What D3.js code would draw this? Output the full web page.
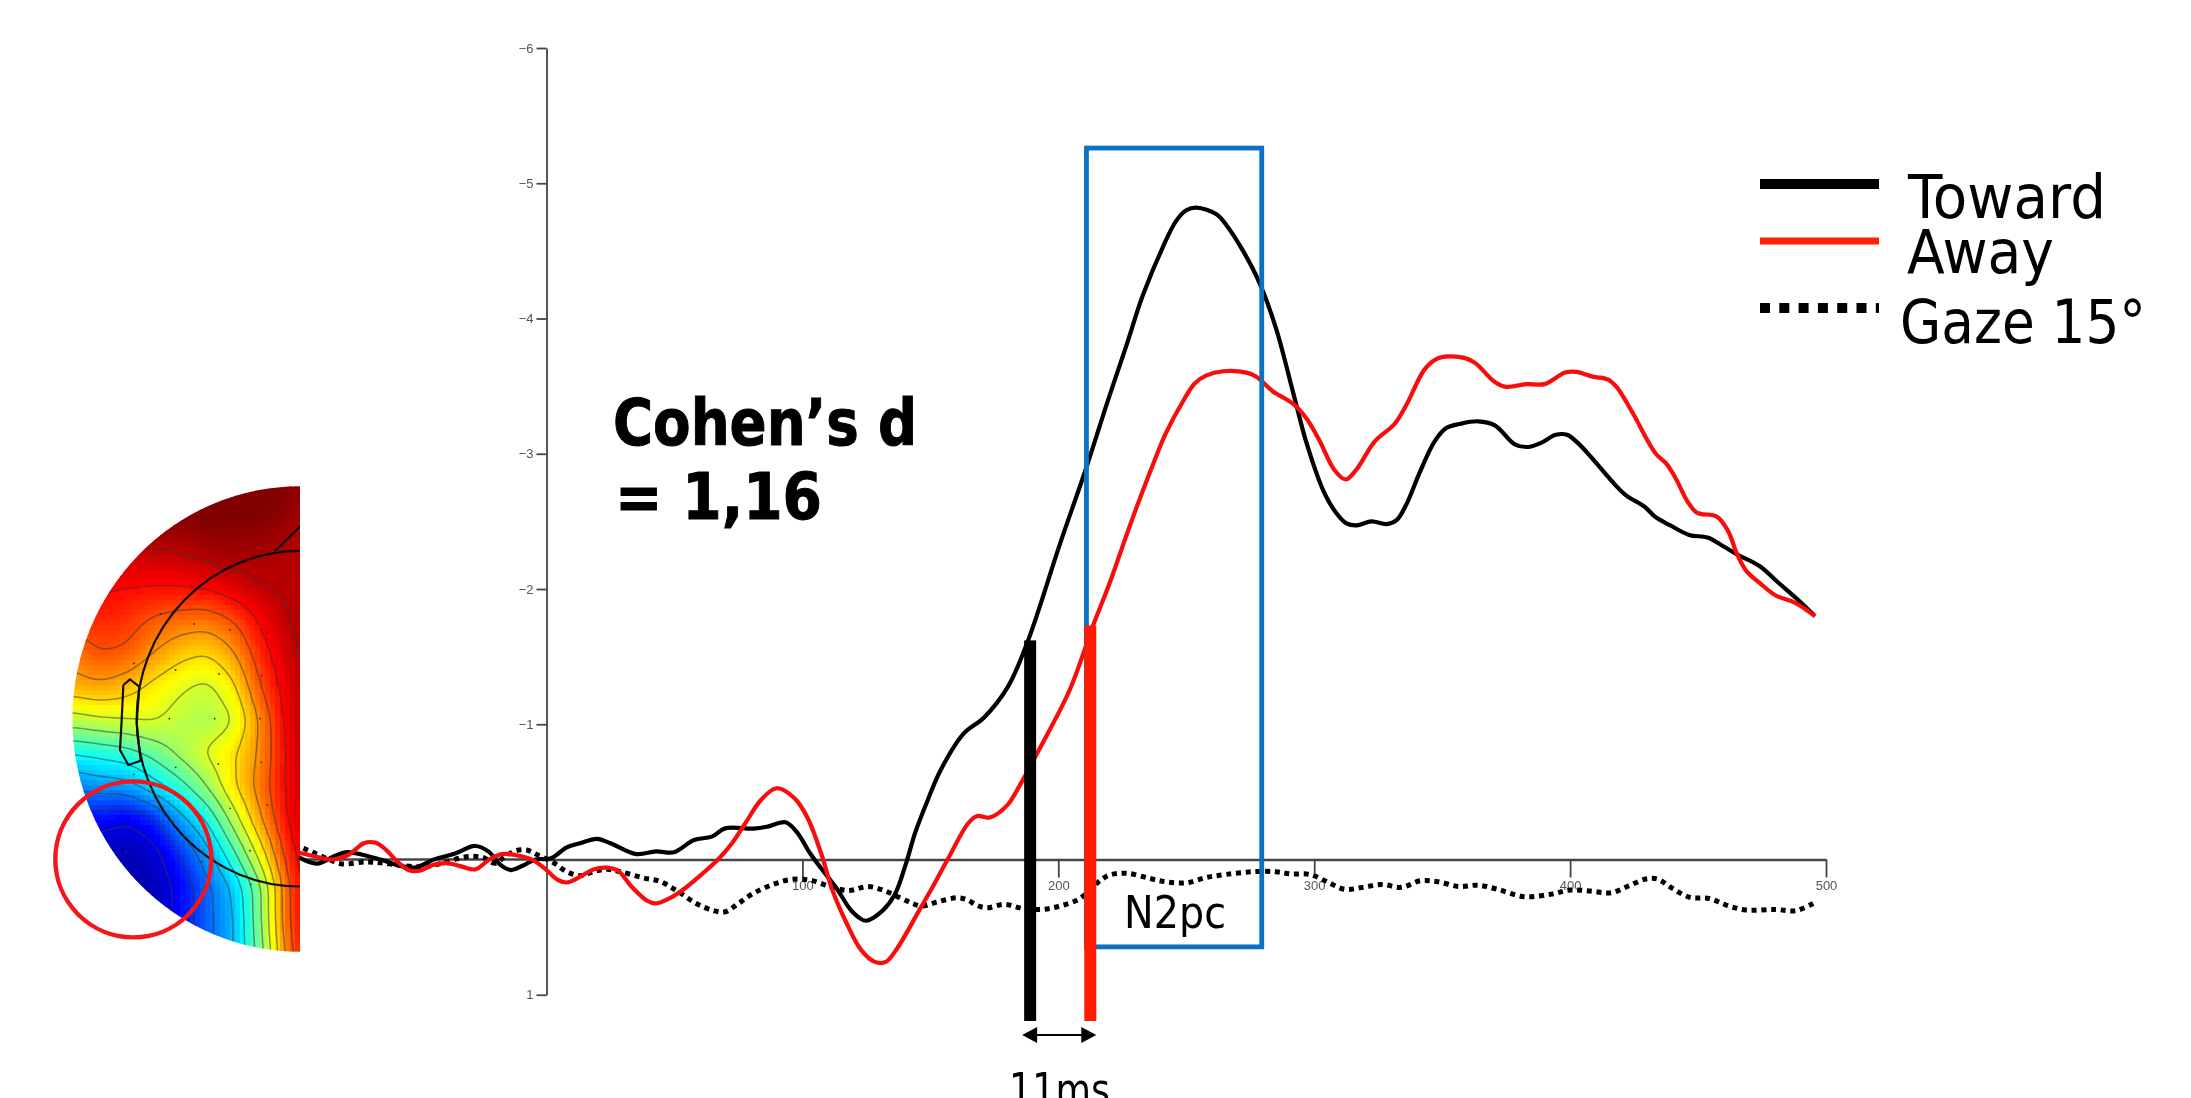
<!DOCTYPE html>
<html><head><meta charset="utf-8">
<script src="https://cdn.jsdelivr.net/npm/d3@7"></script>
<style>html,body{margin:0;padding:0;background:#fff;overflow:hidden}svg{display:block}</style>
</head><body><svg id="c" width="2191" height="1098"></svg>
<script>
// ---- waveforms (time in ms, amplitude in microvolts; negative is up) ----
const towardT=[-96.7,-89.7,-82.8,-78,-72,-65,-56.6,-51,-44,-35.7,-27.9,-22.6,-18,-13.9,-9.5,-4.3,1.8,7.9,13,19.8,25,35,42.8,49.8,57.6,64.6,69.8,81,86.4,93.4,97.7,103,107.3,113.4,119.5,124.8,130.9,136,140.5,144,149,154,163,171,180.4,188.2,200.6,211,218.8,226.6,233,240.9,246,250,254,261.8,265.7,272.2,278.7,285.2,291.8,297,303.5,308.7,312.6,316.5,322.4,328.2,332.1,336,341.2,347,351.6,356.8,364,370.6,378.4,383.5,388.6,394.4,398.8,403,408.9,417.6,422,429,433.5,439.2,446.5,453.7,459.5,465.3,474,481.2,488.5,495.7];
const towardV=[-.016,.03,-.026,-.055,-.035,0,.05,.058,0,-.045,-.1,-.058,.04,.078,.048,0,-.009,-.09,-.12,-.152,-.12,-.04,-.06,-.053,-.144,-.169,-.23,-.228,-.243,-.275,-.206,-.046,.065,.214,.386,.453,.386,.263,.028,-.194,-.44,-.66,-.93,-1.05,-1.28,-1.62,-2.33,-2.9,-3.36,-3.8,-4.17,-4.53,-4.72,-4.8,-4.82,-4.77,-4.69,-4.5,-4.26,-3.92,-3.45,-3.08,-2.73,-2.56,-2.485,-2.47,-2.5,-2.48,-2.507,-2.625,-2.86,-3.09,-3.19,-3.22,-3.24,-3.21,-3.07,-3.05,-3.08,-3.14,-3.14,-3.08,-2.96,-2.77,-2.69,-2.61,-2.53,-2.47,-2.4,-2.38,-2.32,-2.255,-2.17,-2.05,-1.93,-1.8];
const awayT=[-96.7,-89.7,-84.5,-77.5,-71.4,-67,-62.6,-58.3,-53.9,-49.6,-44.4,-38.3,-33,-27.8,-22.6,-17.4,-11.3,-5.2,0,4.4,7.9,13.2,18.4,23.6,28,33.2,39.3,42.8,48,54,60.3,67.2,72.5,77.7,83.8,89.9,96.9,102.1,107.3,111.7,117,123,128.3,132.6,137,145.7,151,157,164.8,168.3,173.2,180,185,193,204.5,213.6,220,228,237,242,248.8,253.3,257.9,264.4,273.5,277.4,283.9,291.7,297,302,307.9,312.3,316.4,323.6,331.4,336,343,347.7,352.5,359,363,370.6,374.9,382.9,390,398,402.4,408.9,414.7,418.3,424.8,429.9,433.5,437.9,441.5,445.8,449.5,457.3,461.7,465.3,469,474,480.5,487.8,495.7];
const awayV=[-.05,-.02,0,-.033,-.12,-.125,-.07,.016,.078,.083,.04,.028,.053,.073,.004,-.04,-.03,.004,.078,.15,.17,.127,.073,.06,.083,.2,.305,.325,.288,.214,.115,-.004,-.12,-.268,-.44,-.527,-.453,-.305,-.046,.226,.46,.67,.757,.757,.658,.374,.2,-.009,-.268,-.322,-.31,-.4,-.55,-.83,-1.255,-1.73,-2.04,-2.47,-2.92,-3.15,-3.39,-3.52,-3.58,-3.61,-3.6,-3.57,-3.46,-3.37,-3.26,-3.1,-2.88,-2.81,-2.88,-3.09,-3.22,-3.36,-3.62,-3.7,-3.72,-3.707,-3.67,-3.53,-3.495,-3.515,-3.515,-3.6,-3.606,-3.57,-3.55,-3.49,-3.29,-3.11,-3,-2.92,-2.81,-2.65,-2.565,-2.535,-2.43,-2.255,-2.13,-2.046,-1.95,-1.9,-1.8];
const gazeT=[-95,-89.7,-84.5,-80,-70.4,-63.4,-54.9,-47.9,-41,-31.3,-25,-20,-16.5,-12,-7.8,-3.4,2.7,7.9,13.2,18.4,23.6,28.8,37.6,44.6,51.5,58.5,65.5,69.9,75,81.2,89,96,103,110.8,118,125.6,132,138.7,143,146.5,153,160.7,164.6,168,172,179,186,194,201,208.5,215,220,227,235.7,242,250,258,265.7,276,285,290.7,298.2,305,311.7,319,326.5,334,341.6,348.3,356.6,364,371.6,382,392.7,400,407.8,416,422.8,429.5,434,440,446.8,454.3,461,468.7,480,488,495];
const gazeV=[-.083,-.04,.004,.033,.018,.028,.048,.053,.028,-.02,-.016,.028,-.02,-.065,-.07,-.033,.023,.09,.12,.09,.073,.09,.135,.164,.238,.325,.379,.386,.325,.246,.181,.147,.152,.2,.23,.2,.23,.288,.325,.344,.312,.283,.3,.337,.357,.332,.362,.369,.342,.288,.176,.115,.102,.14,.165,.172,.132,.11,.09,.09,.107,.11,.164,.22,.206,.184,.206,.157,.164,.2,.19,.22,.275,.256,.226,.233,.246,.196,.144,.144,.214,.28,.288,.337,.374,.369,.379,.325];

// ---- axes ----
const yTicks=[-6,-5,-4,-3,-2,-1,1];
const xTicks=[100,200,300,400,500];
// ---- annotations (ms / microvolts) ----
const onsetLabels=["Toward","Away"];
const onsetTime=[189,212.5];
const onsetTop=[-1.62,-1.73];
const onsetBottom=1.194;
const n2pcWindow=[211,279.5];
const n2pcRange=[-5.26,.646];
// ---- legend ----
const legendLabels=["Toward","Away","Gaze 15°"];

// ---- scalp map: potential levels read row by row (0 = dark blue, 1 = dark red) ----
const mapCols=[100,180,260,340,420,500,580,660,740,780];
const mapRows=[50,150,250,350,450,550,650,750,850,950,1050,1150,1250,1350,1450];
const mapLevels=[
[1,1,1,1,1,1,1,1,1,.98],
[1,1,1,1,.99,1,1,1,.98,.96],
[.93,.93,.93,.93,.94,.96,.97,.96,.95,.94],
[.88,.88,.87,.87,.87,.88,.91,.94,.95,.94],
[.82,.84,.83,.79,.77,.76,.8,.88,.94,.95],
[.76,.8,.79,.73,.68,.66,.72,.84,.92,.95],
[.7,.72,.69,.64,.6,.57,.64,.8,.9,.94],
[.56,.58,.59,.6,.56,.54,.58,.74,.89,.94],
[.38,.4,.42,.47,.54,.6,.65,.74,.88,.93],
[.25,.27,.28,.35,.42,.52,.65,.76,.88,.93],
[.13,.13,.1,.15,.28,.38,.55,.72,.87,.92],
[.05,.05,.05,.07,.17,.28,.43,.62,.83,.9],
[.05,.05,.05,.05,.12,.22,.32,.5,.78,.88],
[.05,.05,.05,.05,.12,.22,.3,.5,.78,.88],
[.05,.05,.05,.05,.12,.22,.3,.48,.75,.86]];
const contourLevels=[.1,.17,.24,.31,.38,.45,.52,.59,.66,.73,.8,.87,.94];
const electrodeX=[350,485,632,362,462,570,682,282,407,537,664,388,524,660,407,535,664,282,570,682,362,257,630,485,632];
const electrodeY=[253,318,352,432,462,480,488,580,600,612,617,746,746,746,892,882,877,913,1015,1005,1062,1147,1142,1175,1243];
const earX=[250,270,298,290,302,265,240,245,250];
const earY=[645,628,650,760,872,885,840,750,645];

const svg=d3.select("#c");
const defs=svg.append("defs");
defs.append("filter").attr("id","soft").attr("x","-2%").attr("y","-2%").attr("width","104%").attr("height","104%")
  .append("feGaussianBlur").attr("stdDeviation",.6);
const root=svg.append("g").attr("filter","url(#soft)");

const x=d3.scaleLinear().domain([0,500]).range([546.5,1826]);
const y=d3.scaleLinear().domain([-6,1]).range([48,994.75]);

// Scalp map, in the coordinates it was read in
const mx=d3.scaleLinear().domain([0,870]).range([40,330]);
const my=d3.scaleLinear().domain([0,1470]).range([470,960]);
const jet=t=>{const c=v=>Math.round(255*Math.max(0,Math.min(1,v)));
  return d3.rgb(c(1.5-Math.abs(4*t-3)),c(1.5-Math.abs(4*t-2)),c(1.5-Math.abs(4*t-1)));};
const colour=d3.scaleSequential(jet).domain([0,1]);

function level(zx,zy){
  const cf=d3.scaleLinear().domain(mapCols).range(d3.range(mapCols.length)).clamp(true)(zx);
  const rf=d3.scaleLinear().domain(mapRows).range(d3.range(mapRows.length)).clamp(true)(zy);
  const c0=Math.floor(cf),r0=Math.floor(rf),c1=Math.min(c0+1,mapCols.length-1),r1=Math.min(r0+1,mapRows.length-1);
  const a=cf-c0,b=rf-r0;
  return (mapLevels[r0][c0]*(1-a)+mapLevels[r0][c1]*a)*(1-b)+(mapLevels[r1][c0]*(1-a)+mapLevels[r1][c1]*a)*b;
}
const cell=15, nx=Math.ceil(880/cell), ny=Math.ceil(1500/cell);
const field=new Float64Array(nx*ny);
for(let j=0;j<ny;j++)for(let i=0;i<nx;i++)field[j*nx+i]=level((i+.5)*cell,(j+.5)*cell);
if(d3.blur2)d3.blur2({data:field,width:nx,height:ny},1);

const clipId="half";
const R={cx:mx(780),cy:my(747),rx:mx(780)-mx(97),ry:my(1445)-my(747)};
defs.append("clipPath").attr("id",clipId).append("path")
  .attr("d",`M${R.cx},${R.cy-R.ry}A${R.rx},${R.ry} 0 0 0 ${R.cx},${R.cy+R.ry}Z`);
const topo=root.append("g").attr("clip-path",`url(#${clipId})`);
const cells=[];
for(let j=0;j<ny;j++)for(let i=0;i<nx;i++)cells.push({i,j,v:field[j*nx+i]});
topo.append("g").selectAll("rect").data(cells).join("rect")
  .attr("x",d=>mx(d.i*cell)).attr("y",d=>my(d.j*cell))
  .attr("width",mx(cell)-mx(0)+.6).attr("height",my(cell)-my(0)+.6)
  .attr("fill",d=>colour(d.v));
const contours=d3.contours().size([nx,ny]).thresholds(contourLevels)(Array.from(field));
const proj=d3.geoPath(d3.geoTransform({point(px,py){this.stream.point(mx(px*cell),my(py*cell));}}));
topo.append("g").selectAll("path").data(contours).join("path").attr("d",proj)
  .attr("fill","none").attr("stroke","#333").attr("stroke-opacity",.5).attr("stroke-width",1.5);
topo.append("g").selectAll("circle").data(electrodeX).join("circle")
  .attr("cx",d=>mx(d)).attr("cy",(d,i)=>my(electrodeY[i])).attr("r",.9).attr("fill","#333");
topo.append("ellipse").attr("cx",mx(780)).attr("cy",my(746)).attr("rx",mx(780)-mx(290)).attr("ry",(my(1250)-my(243))/2)
  .attr("fill","none").attr("stroke","#111").attr("stroke-width",2.2);
topo.append("line").attr("x1",mx(705)).attr("y1",my(243)).attr("x2",mx(782)).attr("y2",my(168))
  .attr("stroke","#111").attr("stroke-width",2.2);
topo.append("path").datum(earX).attr("d",d3.line().x(d=>mx(d)).y((d,i)=>my(earY[i])))
  .attr("fill","none").attr("stroke","#111").attr("stroke-width",2.2);
root.append("circle").attr("cx",mx(280)).attr("cy",my(1168)).attr("r",78)
  .attr("fill","none").attr("stroke","#f5141c").attr("stroke-width",4.4);

// Axes
const axisCol="#444";
const gy=root.append("g").attr("transform",`translate(${x(0)},0)`)
  .call(d3.axisLeft(y).tickValues(yTicks).tickFormat(d3.format("d")).tickSize(10).tickSizeOuter(0).tickPadding(3));
const gx=root.append("g").attr("transform",`translate(0,${y(0)})`)
  .call(d3.axisBottom(x).tickValues(xTicks).tickFormat(d3.format("d")).tickSize(18).tickSizeOuter(0).tickPadding(3));
root.selectAll(".domain,.tick line").attr("stroke",axisCol).attr("stroke-width",1.8);
root.selectAll(".tick text").attr("fill","#555").attr("font-family","Liberation Sans").attr("font-size",13);
gx.select(".domain").attr("stroke-width",2.4);
root.append("line").attr("x1",x(-96)).attr("x2",x(0)).attr("y1",y(0)).attr("y2",y(0))
  .attr("stroke",axisCol).attr("stroke-width",2.4);

// Waveforms
const line=d3.line().curve(d3.curveCatmullRom.alpha(.5));
const pts=(T,V)=>T.map((t,i)=>[x(t),y(V[i])]);
root.append("path").attr("d",line(pts(gazeT,gazeV))).attr("fill","none").attr("stroke","#000")
  .attr("stroke-width",5).attr("stroke-dasharray","5 4.7");
root.append("path").attr("d",line(pts(towardT,towardV))).attr("fill","none").attr("stroke","#000").attr("stroke-width",4.2);
root.append("path").attr("d",line(pts(awayT,awayV))).attr("fill","none").attr("stroke","#f80a0a").attr("stroke-width",4.2);

// N2pc window
root.append("rect").attr("x",x(n2pcWindow[0])).attr("y",y(n2pcRange[0]))
  .attr("width",x(n2pcWindow[1])-x(n2pcWindow[0])).attr("height",y(n2pcRange[1])-y(n2pcRange[0]))
  .attr("fill","none").attr("stroke","#0a70c0").attr("stroke-width",4.8);

// Onset bars
root.selectAll("rect.onset").data(onsetTime).join("rect").attr("class","onset")
  .attr("x",d=>x(d)-6).attr("width",12)
  .attr("y",(d,i)=>y(onsetTop[i])).attr("height",(d,i)=>y(onsetBottom)-y(onsetTop[i]))
  .attr("fill",(d,i)=>i?"#ff1a00":"#000");

// 11 ms arrow
const ay=1035, a0=x(onsetTime[0])-8, a1=x(onsetTime[1])+6;
root.append("line").attr("x1",a0+10).attr("x2",a1-10).attr("y1",ay).attr("y2",ay).attr("stroke","#000").attr("stroke-width",2);
root.append("path").attr("d",`M${a0},${ay}l15,-8v16Z M${a1},${ay}l-15,-8v16Z`).attr("fill","#000");

// Text
const text=(s,px,py,size,len,weight)=>root.append("text").text(s).attr("x",px).attr("y",py)
  .attr("font-family","DejaVu Sans").attr("font-size",size).attr("font-weight",weight||400)
  .attr("textLength",len).attr("lengthAdjust","spacingAndGlyphs").attr("fill","#000")
  .attr("stroke",weight?"#000":"none").attr("stroke-width",weight?1:0);
text("Cohen’s d",613,445,64,304,700);
text("= 1,16",615,519,64,207,700);
text("N2pc",1124,928,44,102);
text("11ms",1009,1105,44,101);

// Legend
const legendY=[184,241,308], legendW=[10,7,10], legendC=["#000","#ff2400","#000"];
root.selectAll("line.leg").data(legendLabels).join("line").attr("class","leg")
  .attr("x1",1760).attr("x2",1879).attr("y1",(d,i)=>legendY[i]).attr("y2",(d,i)=>legendY[i])
  .attr("stroke",(d,i)=>legendC[i]).attr("stroke-width",(d,i)=>legendW[i])
  .attr("stroke-dasharray",(d,i)=>i==2?"10 9.3":null);
text(legendLabels[0],1908,218,61,198);
text(legendLabels[1],1907,273,61,147);
text(legendLabels[2],1900,343,61,246);
</script></body></html>
